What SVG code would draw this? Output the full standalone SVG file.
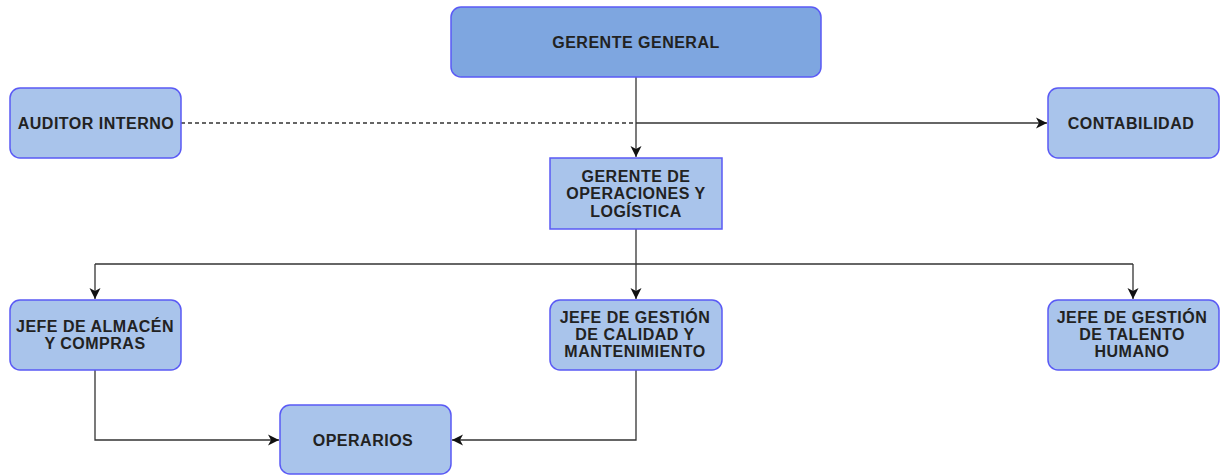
<svg xmlns="http://www.w3.org/2000/svg" width="1222" height="475" viewBox="0 0 1222 475">
<style>
.box{fill:#A9C4EB;stroke:#5A5AF5;stroke-width:1.5}
.top{fill:#7EA6E0;stroke:#5A5AF5;stroke-width:1.5}
.t{font-family:"Liberation Sans",Arial,sans-serif;font-weight:bold;font-size:16px;letter-spacing:0.5px;fill:#222;text-anchor:middle}
.e{fill:none;stroke:#333;stroke-width:1.3}
</style>
<defs>
<marker id="a" markerWidth="12" markerHeight="12" refX="11" refY="6" orient="auto" markerUnits="userSpaceOnUse" viewBox="0 0 12 12">
<path d="M0,0.5 L11,6 L0,11.5 L3,6 Z" fill="#111"/>
</marker>
</defs>
<g id="connectors">
<path class="e" d="M636,77 V157" marker-end="url(#a)"/>
<path class="e" d="M181,123 H636" stroke-dasharray="4,3"/>
<path class="e" d="M636,123 H1047" marker-end="url(#a)"/>
<path class="e" d="M636,229 V299" marker-end="url(#a)"/>
<path class="e" d="M95,264 H1133"/>
<path class="e" d="M95,264 V299" marker-end="url(#a)"/>
<path class="e" d="M1133,264 V299" marker-end="url(#a)"/>
<path class="e" d="M95,370 V440 H279" marker-end="url(#a)"/>
<path class="e" d="M636,370 V440 H452" marker-end="url(#a)"/>
</g>
<g id="gerente-general">
<rect class="top" x="451" y="7" width="370" height="70" rx="10"/>
<text class="t" x="636" y="48">GERENTE GENERAL</text>
</g>
<g id="auditor-interno">
<rect class="box" x="10" y="88" width="171" height="70" rx="10"/>
<text class="t" x="96" y="129">AUDITOR INTERNO</text>
</g>
<g id="contabilidad">
<rect class="box" x="1048" y="88" width="171" height="70" rx="10"/>
<text class="t" x="1131" y="129">CONTABILIDAD</text>
</g>
<g id="gerente-operaciones">
<rect class="box" x="550" y="158" width="172" height="71"/>
<text class="t" x="636" y="182">GERENTE DE</text>
<text class="t" x="636" y="199">OPERACIONES Y</text>
<text class="t" x="636" y="217">LOGÍSTICA</text>
</g>
<g id="jefe-almacen">
<rect class="box" x="10" y="300" width="171" height="70" rx="10"/>
<text class="t" x="95" y="332">JEFE DE ALMACÉN</text>
<text class="t" x="95" y="349">Y COMPRAS</text>
</g>
<g id="jefe-calidad">
<rect class="box" x="550" y="300" width="172" height="70" rx="10"/>
<text class="t" x="635" y="323">JEFE DE GESTIÓN</text>
<text class="t" x="635" y="340">DE CALIDAD Y</text>
<text class="t" x="635" y="357">MANTENIMIENTO</text>
</g>
<g id="jefe-talento">
<rect class="box" x="1048" y="300" width="171" height="70" rx="10"/>
<text class="t" x="1132" y="323">JEFE DE GESTIÓN</text>
<text class="t" x="1132" y="340">DE TALENTO</text>
<text class="t" x="1132" y="357">HUMANO</text>
</g>
<g id="operarios">
<rect class="box" x="280" y="405" width="171" height="69" rx="10"/>
<text class="t" x="363" y="446">OPERARIOS</text>
</g>
</svg>
